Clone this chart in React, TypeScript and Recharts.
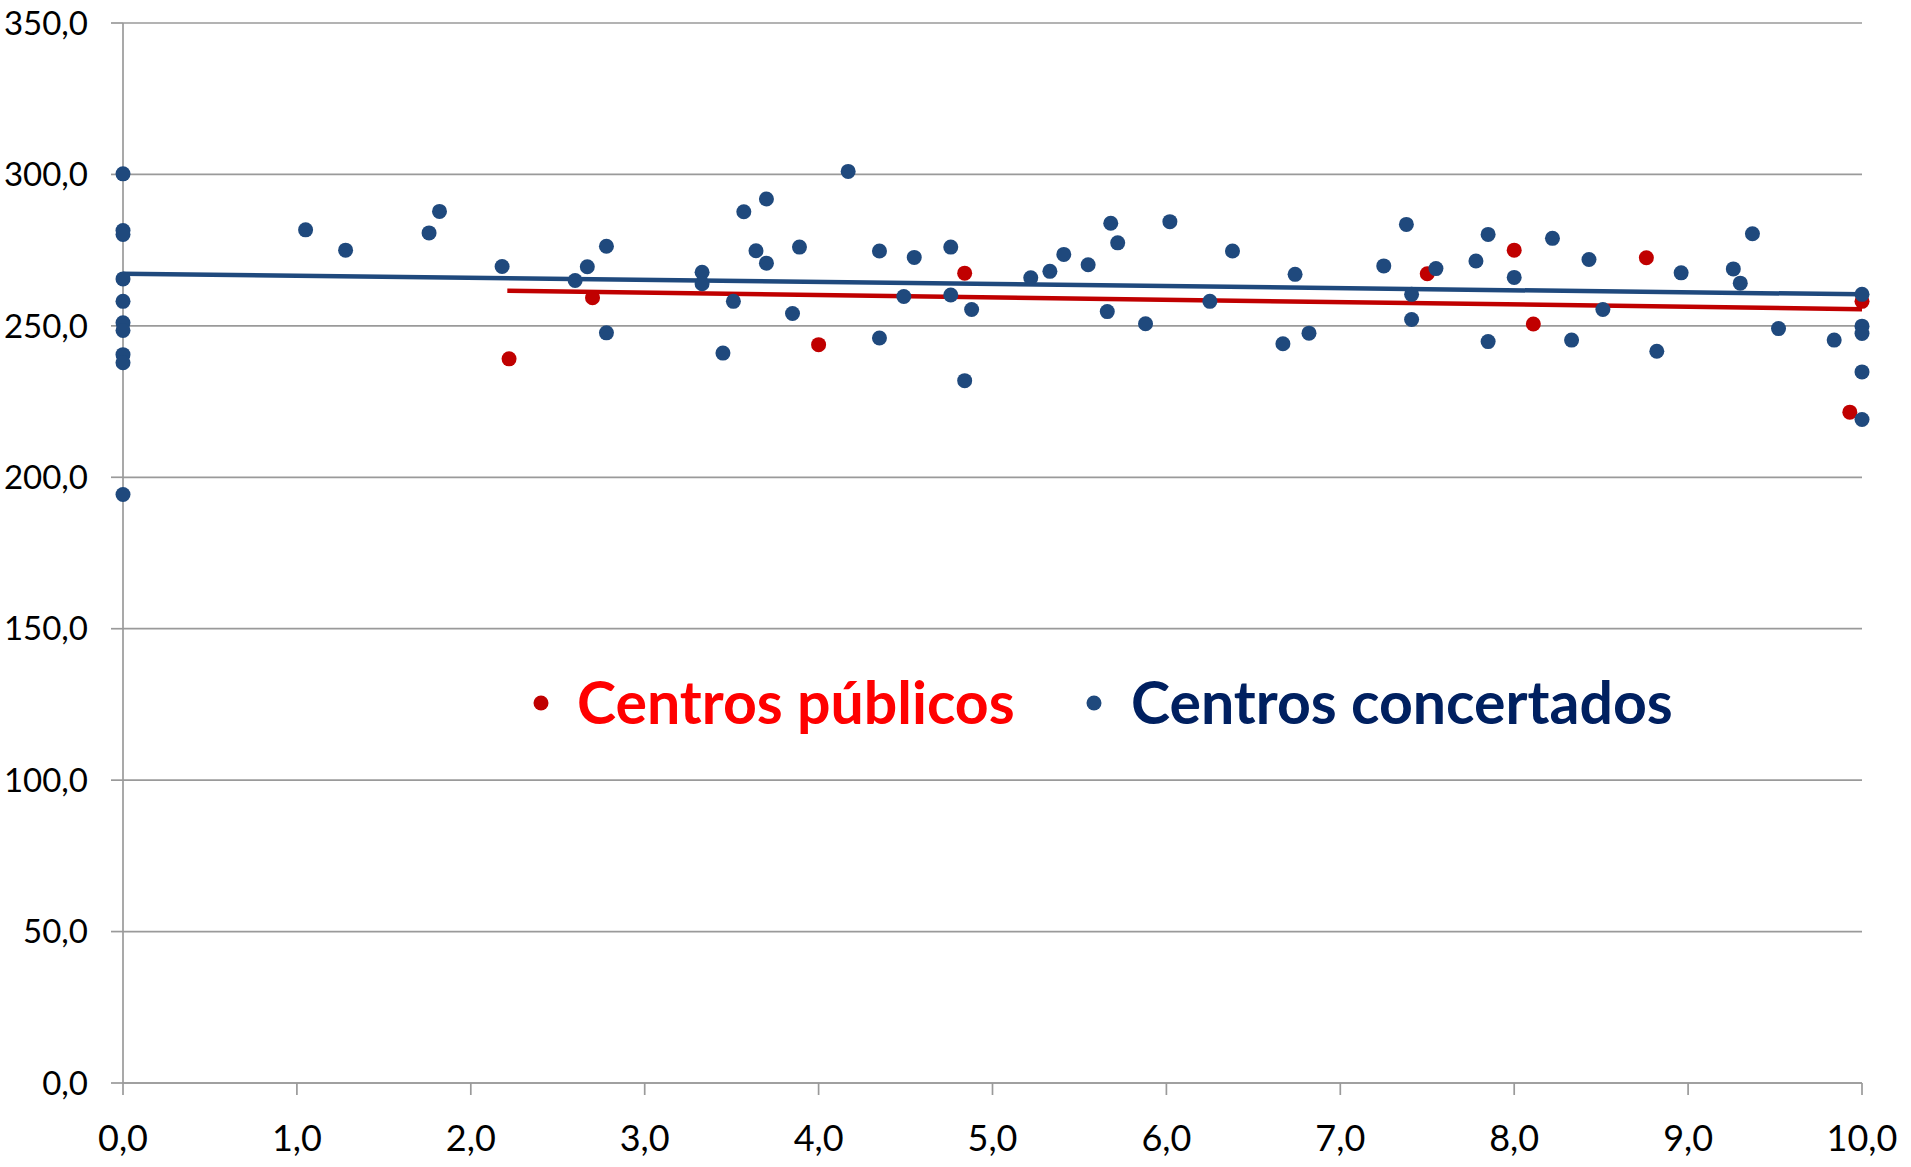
import React from 'react';
import { ScatterChart, Scatter, XAxis, YAxis, CartesianGrid } from 'recharts';

// Centros públicos (red)
const publicX = [2.22, 2.7, 4.0, 4.84, 7.5, 8.0, 8.11, 8.76, 9.93, 10.0];
const publicY = [239.1, 259.3, 243.8, 267.4, 267.2, 275.0, 250.6, 272.5, 221.5, 258.1];

// Centros concertados (blue)
const concertX = [
  0, 0, 0, 0, 0, 0, 0, 0, 0, 0,
  1.05, 1.28, 1.76, 1.82, 2.18,
  2.6, 2.67, 2.78, 2.78,
  3.33, 3.33, 3.45, 3.51, 3.57, 3.64, 3.7, 3.7, 3.85, 3.89,
  4.17, 4.35, 4.35, 4.49, 4.55, 4.76, 4.76, 4.84, 4.88,
  5.22, 5.33, 5.41, 5.55, 5.66, 5.68, 5.72, 5.88,
  6.02, 6.25, 6.38, 6.67, 6.74, 6.82,
  7.25, 7.38, 7.41, 7.41, 7.55, 7.78, 7.85, 7.85, 8.0,
  8.22, 8.33, 8.43, 8.51, 8.82, 8.96,
  9.26, 9.3, 9.37, 9.52, 9.84,
  10, 10, 10, 10, 10,
];
const concertY = [
  300.2, 281.5, 280.2, 265.5, 258.1, 251.0, 248.5, 240.5, 237.8, 194.3,
  281.7, 275.0, 280.7, 287.8, 269.6,
  265.0, 269.5, 276.3, 247.7,
  267.7, 263.9, 241.0, 258.1, 287.7, 274.8, 291.9, 270.7, 254.1, 276.0,
  301.0, 274.7, 246.0, 259.7, 272.6, 276.0, 260.2, 231.9, 255.4,
  265.9, 268.0, 273.6, 270.2, 254.7, 283.9, 277.4, 250.7,
  284.4, 258.1, 274.7, 244.1, 267.0, 247.6,
  269.8, 283.5, 260.4, 252.1, 268.9, 271.4, 280.2, 244.8, 266.0,
  278.9, 245.3, 271.9, 255.4, 241.6, 267.5,
  268.8, 264.1, 280.4, 249.1, 245.3,
  260.4, 249.9, 247.5, 234.8, 219.1,
];

// Linear trend lines (endpoints)
const publicTrendX = [2.21, 10];
const publicTrendY = [261.6, 255.5];
const concertTrendX = [0, 10];
const concertTrendY = [267.2, 260.4];

const xTicks = [0, 1, 2, 3, 4, 5, 6, 7, 8, 9, 10];
const yTicks = [0, 50, 100, 150, 200, 250, 300, 350];

const seriesNames = ['Centros públicos', 'Centros concertados'];

const RED = '#C00000';
const BLUE = '#1F497D';
const GRID = '#9A9A9A';

const zip = (xs: number[], ys: number[]) => xs.map((x, i) => ({ x, y: ys[i] }));

const publicData = zip(publicX, publicY);
const concertData = zip(concertX, concertY);
const publicTrend = zip(publicTrendX, publicTrendY);
const concertTrend = zip(concertTrendX, concertTrendY);

const fmt = (v: number) => v.toFixed(1).replace('.', ',');

const dot = (color: string) => (props: any) => (
  <circle cx={props.cx} cy={props.cy} r={7.5} fill={color} />
);
const none = () => <g />;

export default function App() {
  return (
    <div style={{ position: 'absolute', left: 0, top: 0, width: 1911, height: 1167, background: '#fff' }}>
      <ScatterChart
        width={1911}
        height={1167}
        margin={{ top: 23, right: 49, left: 0, bottom: 14 }}
      >
        <CartesianGrid vertical={false} stroke={GRID} strokeWidth={1.7} />
        <XAxis
          type="number"
          dataKey="x"
          domain={[0, 10]}
          ticks={xTicks}
          interval={0}
          height={70}
          tickFormatter={fmt}
          tickSize={12}
          tickMargin={30}
          axisLine={{ stroke: GRID, strokeWidth: 1.7 }}
          tickLine={{ stroke: GRID, strokeWidth: 1.7 }}
          tick={{ fill: '#000', fontSize: 36, fontFamily: 'Lato' }}
        />
        <YAxis
          type="number"
          dataKey="y"
          domain={[0, 350]}
          ticks={yTicks}
          interval={0}
          width={123}
          tickFormatter={fmt}
          tickSize={12}
          tickMargin={23}
          axisLine={{ stroke: GRID, strokeWidth: 1.7 }}
          tickLine={{ stroke: GRID, strokeWidth: 1.7 }}
          tick={{ fill: '#000', fontSize: 33, fontFamily: 'Lato' }}
        />
        <Scatter
          data={concertTrend}
          line={{ stroke: BLUE, strokeWidth: 4.5 }}
          shape={none}
          isAnimationActive={false}
        />
        <Scatter
          data={publicTrend}
          line={{ stroke: RED, strokeWidth: 4.5 }}
          shape={none}
          isAnimationActive={false}
        />
        <Scatter name={seriesNames[0]} data={publicData} fill={RED} shape={dot(RED)} isAnimationActive={false} />
        <Scatter name={seriesNames[1]} data={concertData} fill={BLUE} shape={dot(BLUE)} isAnimationActive={false} />
      </ScatterChart>
      <svg
        width={1911}
        height={1167}
        style={{ position: 'absolute', left: 0, top: 0, pointerEvents: 'none' }}
      >
        <circle cx={541} cy={703} r={7.5} fill={RED} />
        <text x={577} y={724} fill="#FF0000" fontFamily="Lato" fontWeight={700} fontSize={59}>
          {seriesNames[0]}
        </text>
        <circle cx={1094} cy={703} r={7.5} fill={BLUE} />
        <text x={1131} y={724} fill="#002060" fontFamily="Lato" fontWeight={700} fontSize={59}>
          {seriesNames[1]}
        </text>
      </svg>
    </div>
  );
}
